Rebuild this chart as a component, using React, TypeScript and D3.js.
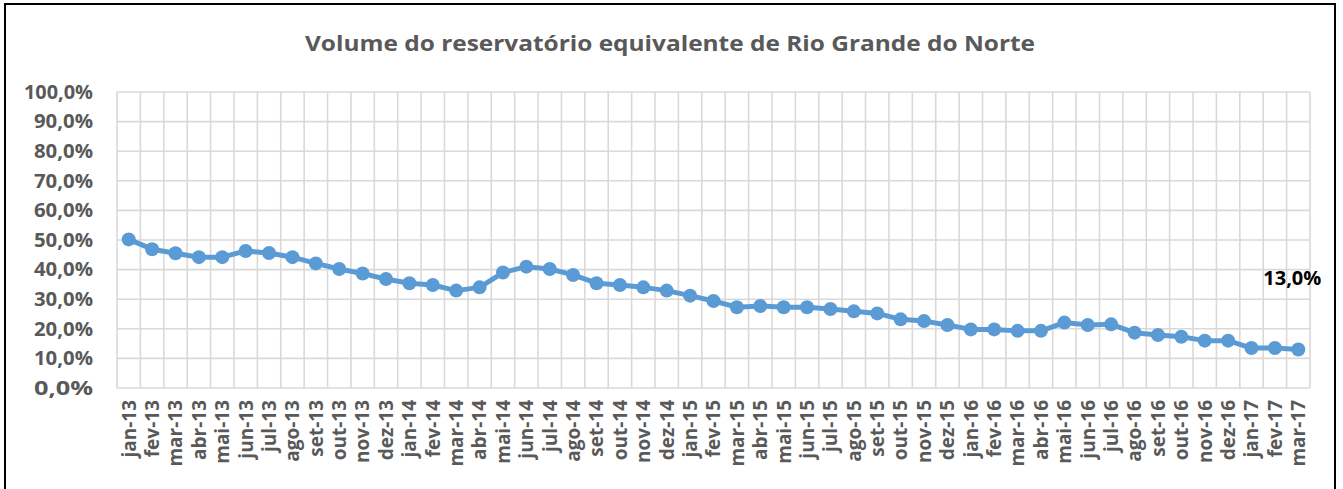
import * as React from 'react';
import * as d3 from 'd3';

const months = [
  'jan-13', 'fev-13', 'mar-13', 'abr-13', 'mai-13', 'jun-13', 'jul-13', 'ago-13', 'set-13', 'out-13', 'nov-13', 'dez-13',
  'jan-14', 'fev-14', 'mar-14', 'abr-14', 'mai-14', 'jun-14', 'jul-14', 'ago-14', 'set-14', 'out-14', 'nov-14', 'dez-14',
  'jan-15', 'fev-15', 'mar-15', 'abr-15', 'mai-15', 'jun-15', 'jul-15', 'ago-15', 'set-15', 'out-15', 'nov-15', 'dez-15',
  'jan-16', 'fev-16', 'mar-16', 'abr-16', 'mai-16', 'jun-16', 'jul-16', 'ago-16', 'set-16', 'out-16', 'nov-16', 'dez-16',
  'jan-17', 'fev-17', 'mar-17'
];

// volume (%)
const volume = [
  50.2, 46.9, 45.5, 44.2, 44.2, 46.3, 45.6, 44.2, 42.1, 40.2, 38.7, 36.8,
  35.4, 34.8, 32.9, 34.0, 39.0, 41.0, 40.2, 38.2, 35.4, 34.8, 34.0, 32.9,
  31.2, 29.4, 27.3, 27.7, 27.3, 27.3, 26.7, 25.9, 25.2, 23.2, 22.6, 21.3,
  19.8, 19.8, 19.3, 19.3, 22.1, 21.3, 21.5, 18.7, 17.9, 17.3, 16.0, 16.0,
  13.5, 13.5, 13.0
];

const yTicks = [0, 10, 20, 30, 40, 50, 60, 70, 80, 90, 100];

const title = 'Volume do reservatório equivalente de Rio Grande do Norte';
const lastLabel = '13,0%';

const W = 1343, H = 489;
const margin = { left: 117, right: 33, top: 92, bottom: 101 };
const FONT = '"Open Sans", sans-serif';
const GRAY = '#595959';

const fmt = (v: number) => v.toFixed(1).replace('.', ',') + '%';

export default function App() {
  const svgRef = React.useRef<SVGSVGElement>(null);

  React.useEffect(() => {
    const svg = d3.select(svgRef.current);
    svg.selectAll('*').remove();

    const x = d3.scaleBand<string>()
      .domain(months)
      .range([margin.left, W - margin.right]);
    const y = d3.scaleLinear()
      .domain([0, 100])
      .range([H - margin.bottom, margin.top]);
    const cx = (m: string) => (x(m) || 0) + x.bandwidth() / 2;

    svg.append('rect')
      .attr('x', 5).attr('y', 4)
      .attr('width', 1330).attr('height', 492)
      .attr('fill', '#fff').attr('stroke', '#000').attr('stroke-width', 2);

    svg.append('text')
      .attr('x', 670).attr('y', 51)
      .attr('text-anchor', 'middle')
      .attr('font-family', FONT).attr('font-weight', 700).attr('font-size', 22)
      .attr('fill', GRAY)
      .attr('textLength', 730).attr('lengthAdjust', 'spacingAndGlyphs')
      .text(title);

    const grid = svg.append('g').attr('stroke', '#d9d9d9').attr('stroke-width', 1.6);
    grid.selectAll('line.h')
      .data(yTicks)
      .enter().append('line')
      .attr('x1', margin.left).attr('x2', W - margin.right)
      .attr('y1', d => y(d)).attr('y2', d => y(d));
    const bounds = months.map(m => x(m) || 0).concat([W - margin.right]);
    grid.selectAll('line.v')
      .data(bounds)
      .enter().append('line')
      .attr('x1', d => d).attr('x2', d => d)
      .attr('y1', y(0)).attr('y2', y(100));

    svg.append('g')
      .selectAll('text')
      .data(yTicks)
      .enter().append('text')
      .attr('x', 93).attr('y', d => y(d))
      .attr('dy', '0.36em')
      .attr('text-anchor', 'end')
      .attr('font-family', FONT).attr('font-weight', 700).attr('font-size', 19)
      .attr('fill', GRAY)
      .attr('textLength', d => (d === 100 ? 69 : 59)).attr('lengthAdjust', 'spacingAndGlyphs')
      .text(d => fmt(d));

    svg.append('g')
      .selectAll('text')
      .data(months)
      .enter().append('text')
      .attr('transform', d => `translate(${cx(d)},${y(0) + 12}) rotate(-90)`)
      .attr('dy', '0.36em')
      .attr('text-anchor', 'end')
      .attr('font-family', FONT).attr('font-weight', 700).attr('font-size', 19)
      .attr('fill', GRAY)
      .text(d => d);

    const line = d3.line<number>()
      .x((_, i) => cx(months[i]))
      .y(d => y(d));

    svg.append('path')
      .datum(volume)
      .attr('d', line)
      .attr('fill', 'none')
      .attr('stroke', '#5b9bd5')
      .attr('stroke-width', 5)
      .attr('stroke-linejoin', 'round');

    svg.append('g')
      .selectAll('circle')
      .data(volume)
      .enter().append('circle')
      .attr('cx', (_, i) => cx(months[i]))
      .attr('cy', d => y(d))
      .attr('r', 7)
      .attr('fill', '#5b9bd5');

    const last = months.length - 1;
    svg.append('text')
      .attr('x', cx(months[last]) + 23)
      .attr('y', y(volume[last]) - 65)
      .attr('text-anchor', 'end')
      .attr('font-family', FONT).attr('font-weight', 700).attr('font-size', 20)
      .attr('fill', '#000')
      .text(lastLabel);
  }, []);

  return (
    <svg ref={svgRef} width={W} height={H}
      style={{ position: 'absolute', left: 0, top: 0, background: '#fff' }} />
  );
}
